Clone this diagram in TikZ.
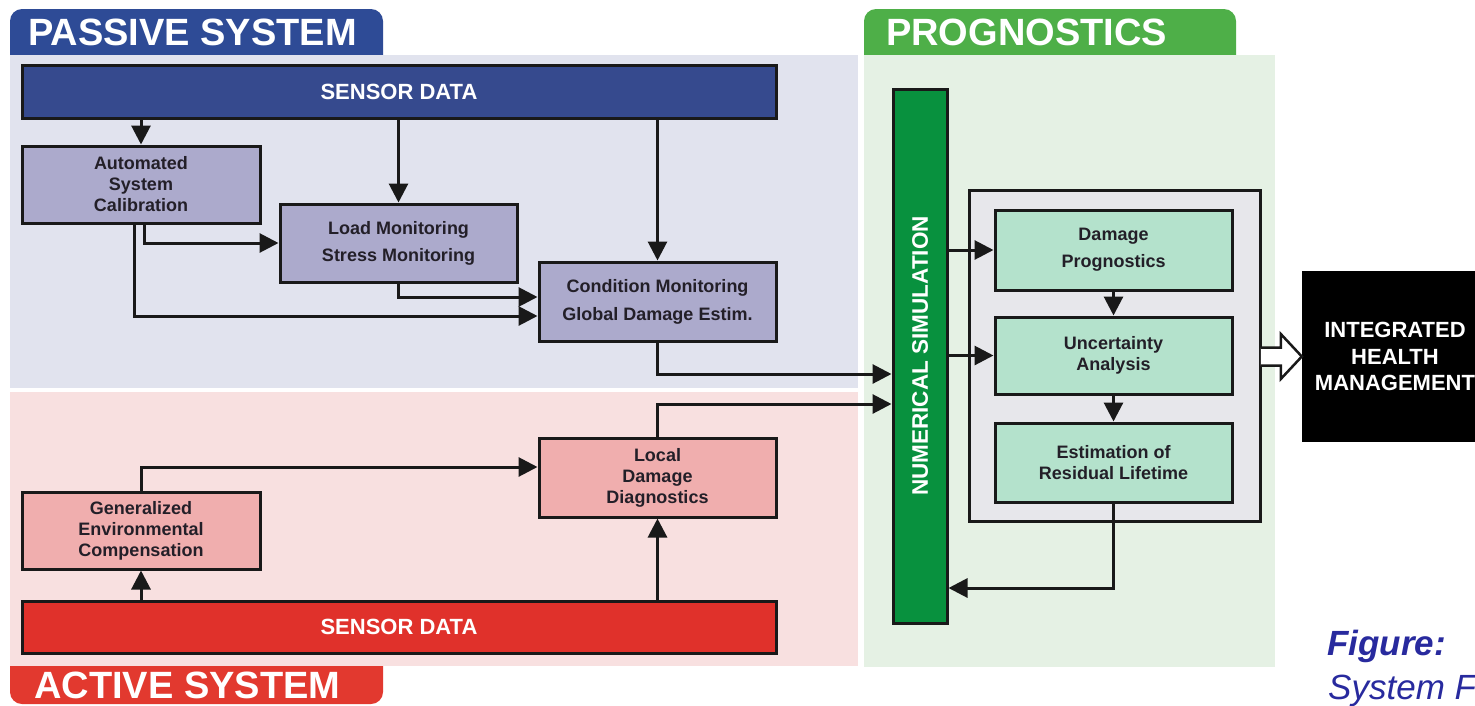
\documentclass[tikz,border=0pt]{standalone}
\usepackage{fontspec}
\setmainfont{Liberation Sans}
\usetikzlibrary{arrows.meta,calc}
\definecolor{passtab}{RGB}{46,75,150}
\definecolor{passpanel}{RGB}{225,227,238}
\definecolor{sdblue}{RGB}{54,74,142}
\definecolor{pboxc}{RGB}{172,170,204}
\definecolor{actpanel}{RGB}{248,224,224}
\definecolor{acttab}{RGB}{226,57,47}
\definecolor{sdred}{RGB}{224,49,43}
\definecolor{aboxc}{RGB}{240,174,174}
\definecolor{progtab}{RGB}{78,175,72}
\definecolor{progpanel}{RGB}{229,241,228}
\definecolor{nsgreen}{RGB}{8,145,62}
\definecolor{gboxc}{RGB}{180,226,204}
\definecolor{contc}{RGB}{231,231,235}
\definecolor{txt}{RGB}{35,31,40}
\definecolor{capblue}{RGB}{40,42,158}
\tikzset{
  boxbase/.style={draw=black!90, line width=3pt, inner sep=0pt, align=center, text=txt,
    font=\fontsize{18}{21}\selectfont\bfseries},
  pbox/.style={boxbase, fill=pboxc},
  abox/.style={boxbase, fill=aboxc},
  gbox/.style={boxbase, fill=gboxc},
  sdbar/.style={draw=black!90, line width=3pt, inner sep=0pt, text=white,
    font=\fontsize{22}{26}\selectfont\bfseries},
  tabtext/.style={anchor=west, inner sep=0pt, text=white, font=\fontsize{38}{44}\selectfont\bfseries},
  arr/.style={line width=3pt, draw=black!90, -{Triangle[length=19pt,width=19pt]}},
  hollow/.style={line width=2.5pt, draw=black!90, fill=white, line join=miter},
}
\begin{document}
\begin{tikzpicture}[x=1pt,y=-1pt]
\useasboundingbox (0,0) rectangle (1475,705);
\clip (0,0) rectangle (1475,705);
% tabs (drawn under panels)
\fill[passtab, rounded corners=12pt] (10,9) rectangle (383,75);
\fill[progtab, rounded corners=12pt] (864,9) rectangle (1236,75);
\fill[acttab, rounded corners=12pt] (10,640) rectangle (383,704);
% panels
\fill[passpanel] (10,55) rectangle (858,388);
\fill[actpanel] (10,392) rectangle (858,666);
\fill[progpanel] (864,55) rectangle (1275,667);
% tab texts
\node[tabtext] (tpass) at (28,32.5) {PASSIVE SYSTEM};
\node[tabtext] (tprog) at (886,32.5) {PROGNOSTICS};
\node[tabtext] (tact) at (34,685) {ACTIVE SYSTEM};
% passive system
\node[sdbar, fill=sdblue, minimum width=754, minimum height=53] (sd1) at (399,92) {SENSOR DATA};
\node[pbox, minimum width=238, minimum height=77] (ac) at (141,184.5) {Automated\\System\\Calibration};
\node[pbox, minimum width=237, minimum height=78] (load) at (398.5,243) {Load Monitoring\\[6pt]Stress Monitoring};
\node[pbox, minimum width=237, minimum height=79] (cond) at (657.5,301.5) {Condition Monitoring\\[7pt]Global Damage Estim.};
% active system
\node[sdbar, fill=sdred, minimum width=754, minimum height=52] (sd2) at (399,627) {SENSOR DATA};
\node[abox, minimum width=237, minimum height=79] (local) at (657.5,477.5) {Local\\Damage\\Diagnostics};
\node[abox, minimum width=238, minimum height=77] (gen) at (141,530.5) {Generalized\\Environmental\\Compensation};
% prognostics
\node[draw=black!90, line width=3pt, fill=nsgreen, minimum width=54, minimum height=534, inner sep=0pt] (ns) at (920,356) {};
\node[rotate=90, text=white, inner sep=0pt, font=\fontsize{22.5}{26}\selectfont\bfseries] (nslabel) at (ns.center) {NUMERICAL SIMULATION};
\node[draw=black!90, line width=3pt, fill=contc, minimum width=291, minimum height=331, inner sep=0pt] (cont) at (1114.5,355.5) {};
\node[gbox, minimum width=237, minimum height=80] (dp) at (1113.5,250) {Damage\\[6pt]Prognostics};
\node[gbox, minimum width=237, minimum height=77] (ua) at (1113.5,355.5) {Uncertainty\\Analysis};
\node[gbox, minimum width=237, minimum height=79] (est) at (1113.5,462.5) {Estimation of\\Residual Lifetime};
% integrated health management
\node[fill=black, minimum width=186, minimum height=171, inner sep=0pt, text=white, align=center,
  font=\fontsize{22}{26.5}\selectfont\bfseries] (ihm) at (1395,356.5) {INTEGRATED\\HEALTH\\MANAGEMENT};
% connectors: passive
\draw[arr] (ac.north |- sd1.south) -- (ac.north);
\draw[arr] (load.north |- sd1.south) -- (load.north);
\draw[arr] (cond.north |- sd1.south) -- (cond.north);
\draw[arr] ([xshift=3pt]ac.south) |- (load.west);
\draw[arr] ([xshift=-7pt]ac.south) |- ([yshift=-14.5pt]cond.west);
\draw[arr] (load.south) |- ([yshift=4.5pt]cond.west);
\draw[arr] (cond.south) |- ([yshift=-18pt]ns.west);
% connectors: active
\draw[arr] (gen.south |- sd2.north) -- (gen.south);
\draw[arr] (local.south |- sd2.north) -- (local.south);
\draw[arr] (gen.north) |- ([yshift=10.5pt]local.west);
\draw[arr] (local.north) |- ([yshift=-48pt]ns.west);
% connectors: prognostics
\draw[arr] (ns.east |- dp.west) -- (dp.west);
\draw[arr] (ns.east |- ua.west) -- (ua.west);
\draw[arr] (dp.south) -- (ua.north);
\draw[arr] (ua.south) -- (est.north);
\draw[arr] (est.south) |- ([yshift=-232pt]ns.east);
% hollow arrow
\draw[hollow] ($(ihm.west)+(-41,-9)$) -- ++(20,0) -- ++(0,-13.5) -- (ihm.west) -- ++(-21,22.5) -- ++(0,-13.5) -- ++(-20,0);
% caption
\node[anchor=base west, inner sep=0pt, text=capblue, font=\fontsize{35}{40}\selectfont\bfseries\itshape] (fig) at (1327,655) {Figure:};
\node[anchor=base west, inner sep=0pt, text=capblue, font=\fontsize{35}{40}\selectfont\itshape] (sys) at (1328,699) {System F};
\end{tikzpicture}
\end{document}
